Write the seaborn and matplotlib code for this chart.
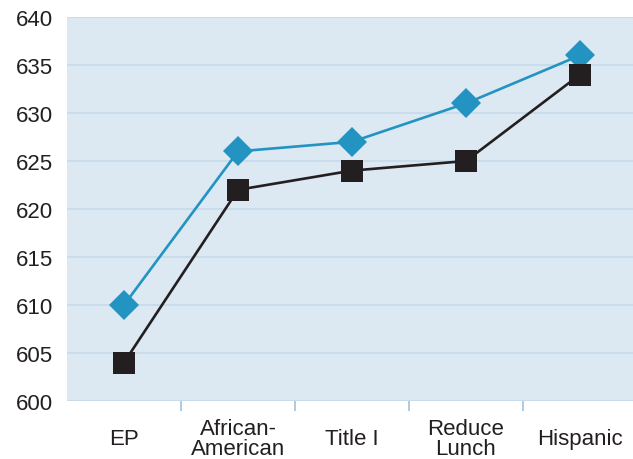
import matplotlib
matplotlib.use("Agg")
import matplotlib.pyplot as plt
import seaborn as sns
import pandas as pd

groups = ["EP", "African-\nAmerican", "Title I", "Reduce\nLunch", "Hispanic"]
series_names = ["Series 1", "Series 2"]
series_1 = [610, 626, 627, 631, 636]
series_2 = [604, 622, 624, 625, 634]
y_ticks = [600, 605, 610, 615, 620, 625, 630, 635, 640]

df = pd.DataFrame({
    "group": groups * 2,
    "score": series_1 + series_2,
    "series": [series_names[0]] * len(groups) + [series_names[1]] * len(groups),
})

sns.set_theme(style="white")
plt.rcParams["font.family"] = ["Liberation Sans", "DejaVu Sans"]

text_color = "#231f20"
blue = "#2394c2"
black = "#231f20"
bg = "#dce8f2"
grid = "#c8dbeb"

fig = plt.figure(figsize=(6.33, 4.6), dpi=100)
ax = fig.add_axes([67 / 633, 1 - 402 / 460, 1 - 67 / 633, (402 - 18) / 460])
ax.set_facecolor(bg)

sns.lineplot(
    data=df, x="group", y="score", hue="series", style="series",
    hue_order=series_names, style_order=series_names,
    palette={series_names[0]: blue, series_names[1]: black},
    markers={series_names[0]: "D", series_names[1]: "s"},
    dashes=False, linewidth=1.9, markersize=15.5, markeredgewidth=0,
    legend=False, ax=ax, sort=False,
)

ax.set_ylim(600, 640)
ax.set_xlim(-0.5, 4.465)
ax.set_yticks(y_ticks)
ax.set_axisbelow(True)
ax.yaxis.grid(True, color=grid, linewidth=1.3)
ax.xaxis.grid(False)
for s in ax.spines.values():
    s.set_visible(False)

ax.set_xlabel("")
ax.set_ylabel("")
ax.set_xticks(range(len(groups)))
ax.set_xticklabels(groups, linespacing=0.95)
ax.set_xticks([0.5, 1.5, 2.5, 3.5], minor=True)
ax.tick_params(axis="x", which="major", length=0, pad=27, labelsize=16, labelcolor=text_color)
ax.tick_params(axis="x", which="minor", length=7, width=1.2, color="#9cc3e0", bottom=True)
for lbl in ax.get_xticklabels():
    lbl.set_verticalalignment("center")
ax.tick_params(axis="y", length=0, pad=10, labelsize=16, labelcolor=text_color)

fig.savefig("out.png", dpi=100)
